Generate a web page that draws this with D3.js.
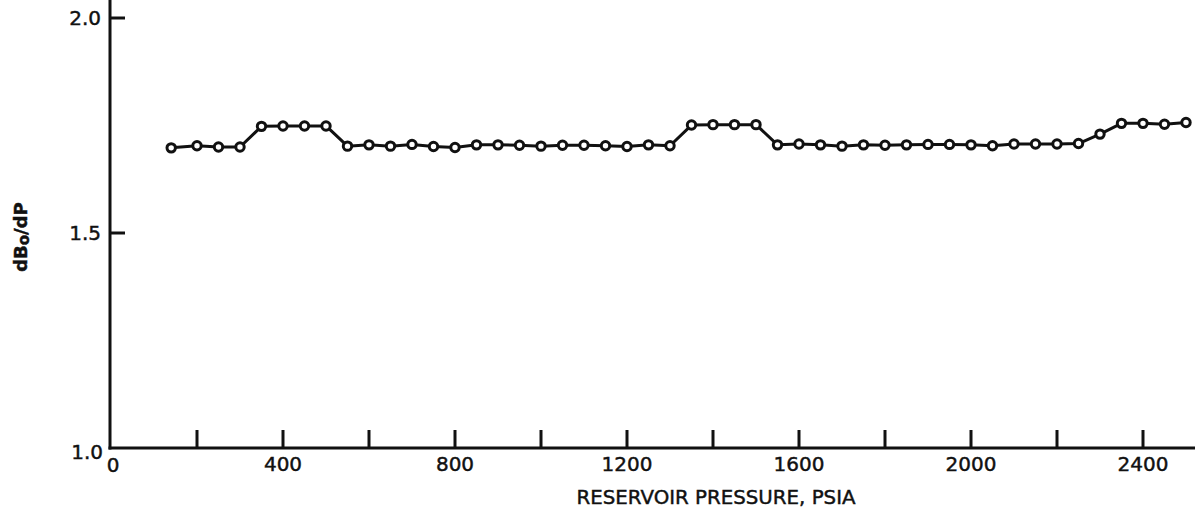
<!DOCTYPE html>
<html>
<head>
<meta charset="utf-8">
<script src="https://cdn.jsdelivr.net/npm/d3@7"></script>
<style>
body { margin: 0; background: #fff; }
text { font-family: "DejaVu Sans", sans-serif; fill: #111; stroke: #111; stroke-width: 0.45; }
</style>
</head>
<body>
<script>
var w = 1195;
var h = 511;

// reservoir pressure, psia
var pressure = [140, 200, 250, 300, 350, 400, 450, 500, 550, 600, 650, 700, 750, 800,
  850, 900, 950, 1000, 1050, 1100, 1150, 1200, 1250, 1300, 1350, 1400, 1450, 1500,
  1550, 1600, 1650, 1700, 1750, 1800, 1850, 1900, 1950, 2000, 2050, 2100, 2150, 2200,
  2250, 2300, 2350, 2400, 2450, 2500];
// dBo/dP
var dBodP = [1.698, 1.703, 1.700, 1.700, 1.748, 1.749, 1.749, 1.749, 1.702, 1.705,
  1.702, 1.706, 1.701, 1.699, 1.705, 1.705, 1.704, 1.702, 1.704, 1.704, 1.703, 1.701,
  1.705, 1.703, 1.751, 1.752, 1.752, 1.752, 1.705, 1.707, 1.705, 1.702, 1.705, 1.704,
  1.705, 1.706, 1.706, 1.705, 1.703, 1.707, 1.707, 1.707, 1.708, 1.730, 1.755, 1.755,
  1.753, 1.757];

var xTicks = [200, 400, 600, 800, 1000, 1200, 1400, 1600, 1800, 2000, 2200, 2400];
var xLabels = [0, 400, 800, 1200, 1600, 2000, 2400];
var yTicks = [1.5, 2.0];
var yLabels = ["1.0", "1.5", "2.0"];

var svg = d3.select("body")
  .append("svg")
  .attr("width", w)
  .attr("height", h);

var x = d3.scaleLinear().domain([0, 2500]).range([111, 1186]);
var y = d3.scaleLinear().domain([1.0, 2.0]).range([448, 18]);

var x0 = 110, y0 = 448;

// axes lines
svg.append("line")
  .attr("x1", x0).attr("x2", x0)
  .attr("y1", 0).attr("y2", y0 + 1.5)
  .attr("stroke", "#111").attr("stroke-width", 3);
svg.append("line")
  .attr("x1", x0 - 1.5).attr("x2", w)
  .attr("y1", y0).attr("y2", y0)
  .attr("stroke", "#111").attr("stroke-width", 3);

// x ticks (pointing up)
svg.selectAll(".xt")
  .data(xTicks)
  .enter()
  .append("line")
  .attr("x1", function(d){ return x(d); })
  .attr("x2", function(d){ return x(d); })
  .attr("y1", y0).attr("y2", y0 - 18)
  .attr("stroke", "#111").attr("stroke-width", 3);

svg.selectAll(".xl")
  .data(xLabels)
  .enter()
  .append("text")
  .text(function(d){ return d; })
  .attr("text-anchor", "middle")
  .attr("x", function(d){ return d === 0 ? x(d) + 2 : x(d); })
  .attr("y", function(d){ return d === 0 ? 472 : 471; })
  .attr("font-size", 20);

// y ticks (pointing right)
svg.selectAll(".yt")
  .data(yTicks)
  .enter()
  .append("line")
  .attr("x1", x0).attr("x2", x0 + 15)
  .attr("y1", function(d){ return y(d); })
  .attr("y2", function(d){ return y(d); })
  .attr("stroke", "#111").attr("stroke-width", 3);

svg.selectAll(".yl")
  .data(yLabels)
  .enter()
  .append("text")
  .text(function(d){ return d; })
  .attr("text-anchor", "end")
  .attr("x", function(d){ return d === "1.0" ? 103 : 101; })
  .attr("y", function(d){ return d === "1.0" ? y(+d) + 11 : y(+d) + 7; })
  .attr("font-size", 20);

// titles
svg.append("text")
  .text("RESERVOIR PRESSURE, PSIA")
  .attr("text-anchor", "middle")
  .attr("x", 716).attr("y", 504)
  .attr("font-size", 19.8);

var yt = svg.append("text")
  .attr("text-anchor", "middle")
  .attr("transform", "translate(27,237) rotate(-90)")
  .attr("font-size", 18)
  .attr("font-weight", "bold");
yt.append("tspan").text("dB");
yt.append("tspan").text("o").attr("font-size", 15).attr("dy", 2);
yt.append("tspan").text("/dP").attr("dy", -2);

// series
var pts = pressure.map(function(p, i){ return [p, dBodP[i]]; });
var line = d3.line()
  .x(function(d){ return x(d[0]); })
  .y(function(d){ return y(d[1]); });

svg.append("path")
  .datum(pts)
  .attr("d", line)
  .attr("fill", "none")
  .attr("stroke", "#111")
  .attr("stroke-width", 3)
  .attr("stroke-linejoin", "round");

svg.selectAll("circle")
  .data(pts)
  .enter()
  .append("circle")
  .attr("cx", function(d){ return x(d[0]); })
  .attr("cy", function(d){ return y(d[1]); })
  .attr("r", 4.2)
  .attr("fill", "#fff")
  .attr("stroke", "#111")
  .attr("stroke-width", 3);
</script>
</body>
</html>
